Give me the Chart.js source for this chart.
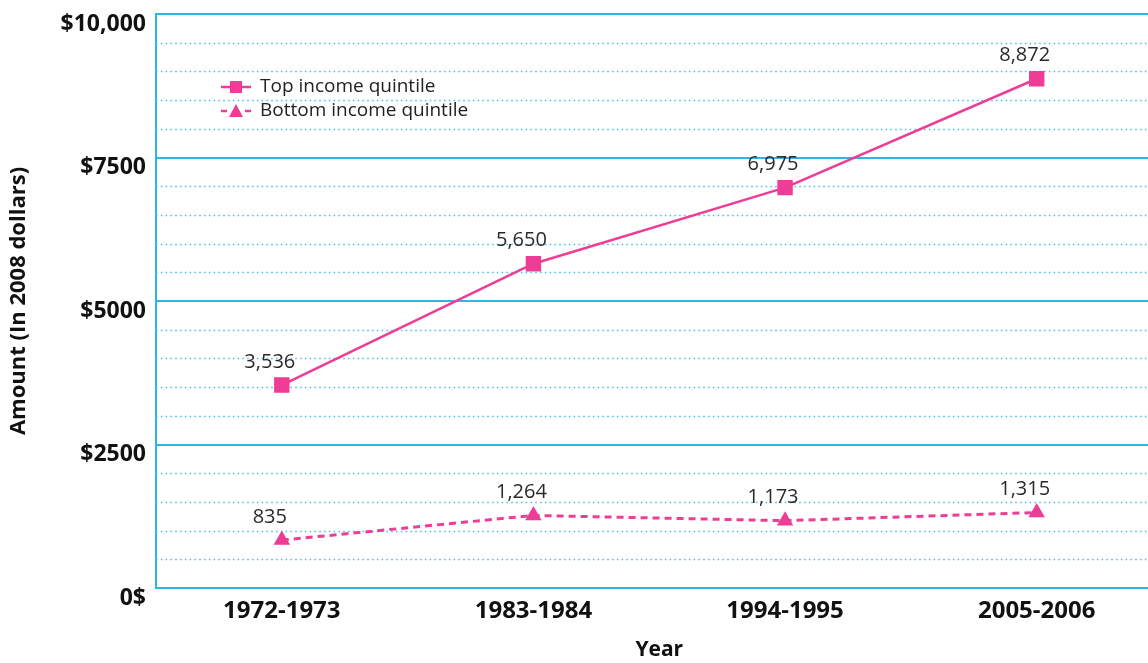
<!DOCTYPE html>
<html>
<head>
<meta charset="utf-8">
<script src="https://cdn.jsdelivr.net/npm/chart.js@4.4.1/dist/chart.umd.min.js"></script>
<style>
  html, body { margin: 0; padding: 0; background: #fff; overflow: hidden; }
  #wrap { width: 1148px; height: 663px; overflow: hidden; position: relative; }
  #incomeChart { position: absolute; left: 0; top: 0; }
</style>
</head>
<body>
<div id="wrap"><canvas id="incomeChart" width="1174" height="663"></canvas></div>
<script>
// --- DATA ---
const years = ["1972-1973", "1983-1984", "1994-1995", "2005-2006"];
const topQuintile = [3536, 5650, 6975, 8872];
const bottomQuintile = [835, 1264, 1173, 1315];
const seriesNames = ["Top income quintile", "Bottom income quintile"];
const yMajorTicks = [0, 2500, 5000, 7500, 10000];
const yMajorLabels = ["0$", "$2500", "$5000", "$7500", "$10,000"];

const PINK = '#ee3d96';
const BLUE = '#2db4e8';
const DOT_BLUE = '#4cc3ef';
const FONT = '"Open Sans", "DejaVu Sans", sans-serif';

// dotted minor grid lines (every 500 between the solid ones)
const minorGrid = {
    id: 'minorGrid',
    beforeDatasetsDraw(chart) {
        const { ctx, chartArea, scales } = chart;
        ctx.save();
        ctx.strokeStyle = DOT_BLUE;
        ctx.lineWidth = 1.6;
        ctx.setLineDash([1.6, 3.2]);
        for (let v = 500; v < 10000; v += 500) {
            if (v % 2500 === 0) continue;
            const y = Math.round(scales.y.getPixelForValue(v)) + 0.5;
            ctx.beginPath();
            ctx.moveTo(chartArea.left, y);
            ctx.lineTo(chartArea.right, y);
            ctx.stroke();
        }
        ctx.restore();
    }
};

// value labels above each point
const valueLabels = {
    id: 'valueLabels',
    afterDatasetsDraw(chart) {
        const { ctx } = chart;
        ctx.save();
        ctx.font = '20px ' + FONT;
        ctx.fillStyle = '#2a2a2a';
        ctx.textAlign = 'center';
        ctx.textBaseline = 'middle';
        chart.data.datasets.forEach((ds, i) => {
            chart.getDatasetMeta(i).data.forEach((pt, j) => {
                ctx.fillText(ds.data[j].toLocaleString('en-US'), pt.x - 12, pt.y - 23);
            });
        });
        ctx.restore();
    }
};

// legend drawn inside the plot area
const innerLegend = {
    id: 'innerLegend',
    afterDatasetsDraw(chart) {
        const { ctx, chartArea } = chart;
        const x0 = chartArea.left + 65;
        const rows = [chartArea.top + 73, chartArea.top + 97];
        ctx.save();
        rows.forEach((y, i) => {
            ctx.strokeStyle = PINK;
            ctx.fillStyle = PINK;
            ctx.lineWidth = 2.5;
            ctx.setLineDash(i === 0 ? [] : [6, 6]);
            ctx.beginPath();
            ctx.moveTo(x0, y);
            ctx.lineTo(x0 + 30, y);
            ctx.stroke();
            ctx.setLineDash([]);
            const cx = x0 + 15;
            ctx.beginPath();
            if (i === 0) {
                ctx.rect(cx - 6, y - 6, 12, 12);
            } else {
                ctx.moveTo(cx, y - 7);
                ctx.lineTo(cx + 7, y + 6);
                ctx.lineTo(cx - 7, y + 6);
                ctx.closePath();
            }
            ctx.fill();
            ctx.font = '19px ' + FONT;
            ctx.fillStyle = '#222';
            ctx.textAlign = 'left';
            ctx.textBaseline = 'middle';
            ctx.fillText(seriesNames[i], x0 + 39, y);
        });
        ctx.restore();
    }
};

const ctx = document.getElementById('incomeChart').getContext('2d');
const incomeChart = new Chart(ctx, {
    type: 'line',
    data: {
        labels: years,
        datasets: [{
            label: seriesNames[0],
            data: topQuintile,
            borderColor: PINK,
            backgroundColor: PINK,
            borderWidth: 2.5,
            pointStyle: 'rect',
            pointRadius: 9.5,
            pointBorderWidth: 2,
            pointBorderColor: PINK,
            pointBackgroundColor: PINK,
            borderJoinStyle: 'round'
        }, {
            label: seriesNames[1],
            data: bottomQuintile,
            borderColor: PINK,
            backgroundColor: PINK,
            borderWidth: 3,
            borderDash: [7, 5],
            pointStyle: 'triangle',
            pointRadius: 7.5,
            pointBorderWidth: 2,
            pointBorderColor: PINK,
            pointBackgroundColor: PINK,
            borderJoinStyle: 'round'
        }]
    },
    options: {
        responsive: false,
        devicePixelRatio: 1,
        animation: false,
        layout: { padding: { top: 14, right: 0, left: 0, bottom: 0 } },
        plugins: { legend: { display: false }, tooltip: { enabled: false } },
        scales: {
            x: {
                offset: true,
                grid: { display: false },
                border: { color: BLUE, width: 2 },
                ticks: { color: '#111', font: { family: FONT, size: 24, weight: 'bold' }, padding: 1 },
                title: { display: true, text: 'Year', color: '#111', font: { family: FONT, size: 21, weight: 'bold' }, padding: { top: 18, bottom: 0 } },
                afterFit(scale) { scale.height = 75; }
            },
            y: {
                min: 0,
                max: 10000,
                afterBuildTicks(scale) { scale.ticks = yMajorTicks.map(v => ({ value: v })); },
                grid: { color: BLUE, lineWidth: 2, drawTicks: false },
                border: { color: BLUE, width: 2 },
                ticks: {
                    color: '#111',
                    font: { family: FONT, size: 23, weight: 'bold' },
                    padding: 10,
                    labelOffset: 10,
                    callback: (v) => yMajorLabels[yMajorTicks.indexOf(v)]
                },
                title: { display: true, text: 'Amount (In 2008 dollars)', color: '#111', font: { family: FONT, size: 22, weight: 'bold' }, padding: { top: 6 } },
                afterFit(scale) {
                    scale.width = 156;
                    scale.paddingTop = 0;
                    scale.paddingBottom = 0;
                }
            }
        }
    },
    plugins: [minorGrid, valueLabels, innerLegend]
});
</script>
</body>
</html>
